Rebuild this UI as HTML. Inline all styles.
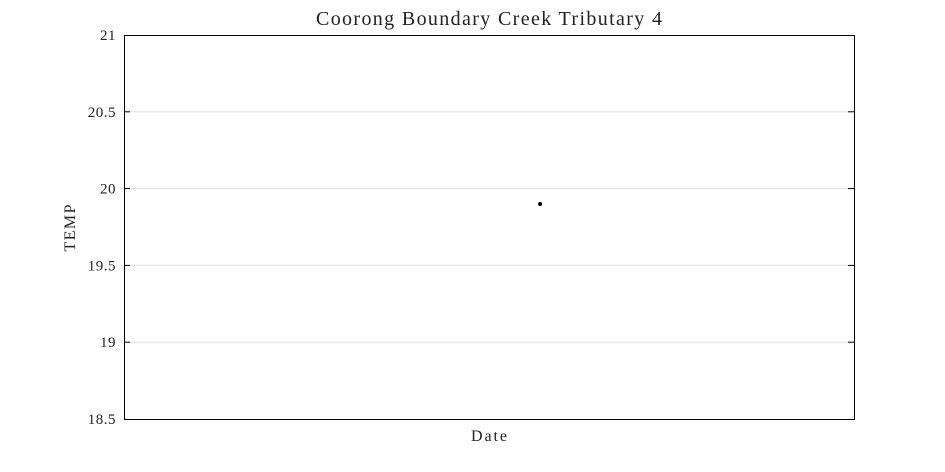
<!DOCTYPE html>
<html><head><style>body{margin:0;background:#fff}svg{display:block}text{font-family:"Liberation Serif",serif;fill:#222}</style></head>
<body>
<svg id="c" width="945" height="472"></svg>
<script>
const yTicks=[18.5,19,19.5,20,20.5,21];
const xValues=[0.57];
const yValues=[19.9];
const L=124,R=854,T=35,B=419,ymin=18.5,ymax=21;
const ys=v=>B-(v-ymin)/(ymax-ymin)*(B-T);
const xs=v=>L+v*(R-L);
const s=document.getElementById('c');const ns='http://www.w3.org/2000/svg';
function add(t,a,txt){const e=document.createElementNS(ns,t);for(const k in a)e.setAttribute(k,a[k]);if(txt!==undefined)e.textContent=txt;s.appendChild(e);return e;}
yTicks.forEach(v=>{const y=ys(v);
if(v>ymin&&v<ymax){const g=add('line',{x1:L,x2:R,y1:y,y2:y,stroke:'#e0e0e0'});
add('line',{x1:L,x2:L+6,y1:y,y2:y,stroke:'#000'});add('line',{x1:R-6,x2:R,y1:y,y2:y,stroke:'#000'});}
const t=add('text',{x:L-8,y:y+5,'text-anchor':'end','font-size':15,'letter-spacing':'0.5'},String(v));
});
const f=add('rect',{x:L+0.5,y:T+0.5,width:R-L,height:B-T,fill:'none',stroke:'#000'});
xValues.forEach((x,i)=>{const p=add('circle',{cx:xs(x),cy:ys(yValues[i]),r:2,fill:'#000'});});
const ti=add('text',{x:489,y:25,'text-anchor':'middle','font-size':20,textLength:346,lengthAdjust:'spacing'},'Coorong Boundary Creek Tributary 4');
const xl=add('text',{x:489,y:441,'text-anchor':'middle','font-size':16,textLength:36,lengthAdjust:'spacing'},'Date');
const yl=add('text',{x:75,y:228,'text-anchor':'middle','font-size':16,textLength:47,lengthAdjust:'spacing',transform:'rotate(-90 75 228)'},'TEMP');
</script>
</body></html>
